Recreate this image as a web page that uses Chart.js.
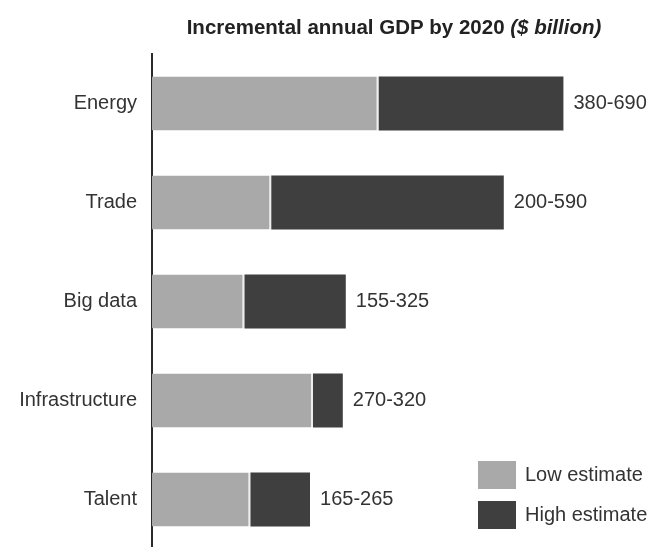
<!DOCTYPE html>
<html>
<head>
<meta charset="utf-8">
<title>Incremental annual GDP by 2020</title>
<script src="https://cdn.jsdelivr.net/npm/chart.js@4/dist/chart.umd.min.js"></script>
<style>
  html, body { margin: 0; padding: 0; background: #fff; overflow: hidden; }
  canvas { display: block; }
</style>
</head>
<body>
<!-- the last category band runs past the bottom edge of the window -->
<canvas id="chart" width="649" height="576"></canvas>
<script>
const categories = ['Energy', 'Trade', 'Big data', 'Infrastructure', 'Talent'];
const lowEstimate = [380, 200, 155, 270, 165];
const highEstimate = [690, 590, 325, 320, 265];
const seriesNames = ['Low estimate', 'High estimate'];

const LIGHT = '#a9a9a9';
const DARK = '#3f3f3f';
const TEXT = '#333333';
const FONT = '"Liberation Sans", Arial, Helvetica, sans-serif';

// the dark segment is the gap between the low and the high estimate
const highExtra = highEstimate.map((v, i) => v - lowEstimate[i]);

// title with the unit in italics
const titlePlugin = {
  id: 'mixedTitle',
  afterDraw(chart) {
    const ctx = chart.ctx;
    const main = 'Incremental annual GDP by 2020 ';
    const unit = '($ billion)';
    ctx.save();
    ctx.fillStyle = '#222';
    ctx.textBaseline = 'middle';
    ctx.textAlign = 'left';
    ctx.font = 'bold 20.5px ' + FONT;
    const w1 = ctx.measureText(main).width;
    ctx.font = 'italic bold 20.5px ' + FONT;
    const w2 = ctx.measureText(unit).width;
    const x0 = 394 - (w1 + w2) / 2;
    ctx.font = 'bold 20.5px ' + FONT;
    ctx.fillText(main, x0, 28);
    ctx.font = 'italic bold 20.5px ' + FONT;
    ctx.fillText(unit, x0 + w1, 28);
    ctx.restore();
  }
};

// "low-high" text after each bar
const rangeLabels = {
  id: 'rangeLabels',
  afterDatasetsDraw(chart) {
    const ctx = chart.ctx;
    const top = chart.getDatasetMeta(1);
    ctx.save();
    ctx.font = '20px ' + FONT;
    ctx.fillStyle = TEXT;
    ctx.textAlign = 'left';
    ctx.textBaseline = 'middle';
    top.data.forEach((bar, i) => {
      ctx.fillText(lowEstimate[i] + '-' + highEstimate[i], bar.x + 10, bar.y);
    });
    ctx.restore();
  }
};

// legend in the lower right corner
const boxLegend = {
  id: 'boxLegend',
  afterDraw(chart) {
    const ctx = chart.ctx;
    ctx.save();
    ctx.font = '20px ' + FONT;
    ctx.textAlign = 'left';
    ctx.textBaseline = 'middle';
    chart.data.datasets.forEach((ds, i) => {
      const y = 461 + i * 40;
      ctx.fillStyle = ds.backgroundColor;
      ctx.fillRect(478, y, 38, 28);
      ctx.fillStyle = TEXT;
      ctx.fillText(ds.label, 525, y + 14);
    });
    ctx.restore();
  }
};

new Chart(document.getElementById('chart'), {
  type: 'bar',
  data: {
    labels: categories,
    datasets: [
      {
        label: seriesNames[0],
        data: lowEstimate,
        backgroundColor: LIGHT,
        borderColor: '#eeeeee',
        borderWidth: { right: 2, left: 0, top: 0, bottom: 0 },
        borderSkipped: false
      },
      {
        label: seriesNames[1],
        data: highExtra,
        backgroundColor: DARK,
        borderWidth: 0
      }
    ]
  },
  options: {
    indexAxis: 'y',
    responsive: false,
    animation: false,
    categoryPercentage: 1,
    barPercentage: 0.545,
    layout: { padding: { top: 54, right: 20, bottom: 1, left: 0 } },
    scales: {
      x: {
        stacked: true,
        min: 0,
        max: 800,
        display: false
      },
      y: {
        stacked: true,
        afterFit(scale) { scale.width = 152; },
        grid: { display: false, drawTicks: false },
        border: { display: true, color: '#2a2a2a', width: 2 },
        ticks: {
          padding: 15,
          color: TEXT,
          font: { family: FONT, size: 20 }
        }
      }
    },
    plugins: {
      legend: { display: false },
      title: { display: false },
      tooltip: { enabled: false }
    }
  },
  plugins: [titlePlugin, rangeLabels, boxLegend]
});
</script>
</body>
</html>
